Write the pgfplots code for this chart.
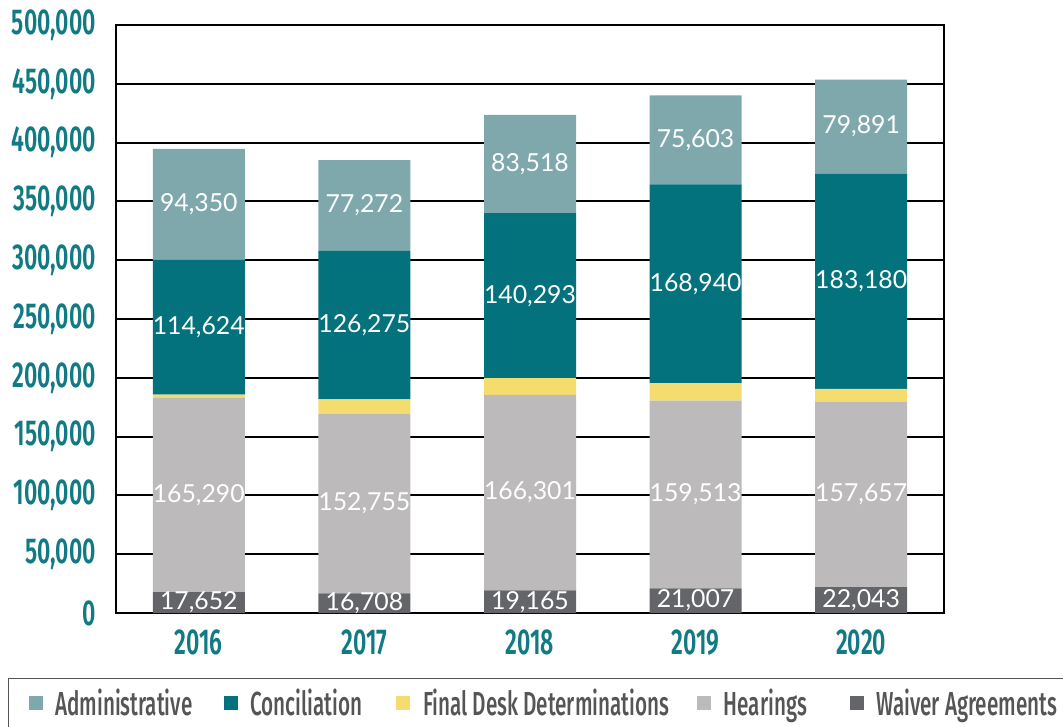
\documentclass[border=0pt]{standalone}
\usepackage{pgfplots}
\pgfplotsset{compat=1.18}
\usepackage{fontspec}
\setmainfont{Lato}
\newfontfamily\labfont{Lato}
\newfontfamily\tickfont{Fira Sans SemiBold}[FakeStretch=0.64]
\newfontfamily\legfont{Fira Sans Medium}[FakeStretch=0.62]
\definecolor{cadmin}{HTML}{7FA8AD}
\definecolor{cconc}{HTML}{03727D}
\definecolor{cfinal}{HTML}{F5DC6E}
\definecolor{chear}{HTML}{BCBABB}
\definecolor{cwaiv}{HTML}{646569}
\definecolor{cteal}{HTML}{117A83}
\definecolor{cleg}{HTML}{555555}
\begin{document}
\begin{tikzpicture}
\useasboundingbox (-87pt,-84.75pt) rectangle (710.25pt,459.75pt);
\begin{axis}[
  at={(0,0)}, anchor=south west,
  width=621pt, height=441pt, scale only axis,
  ybar stacked, bar width=69pt,
  xmin=-0.5, xmax=4.5,
  ymin=0, ymax=500000,
  ytick={0,50000,...,500000},
  xtick={0,1,2,3,4}, xticklabels={2016,2017,2018,2019,2020},
  ymajorgrids, major grid style={black, line width=1.4pt},
  axis line style={black, line width=1.6pt},
  major tick length=0pt,
  scaled y ticks=false,
  yticklabel style={font=\tickfont\fontsize{27}{27}\selectfont, text=cteal, inner sep=0pt, xshift=-15pt,
     /pgf/number format/.cd, fixed, 1000 sep={,}, assume math mode=true},
  xticklabel style={font=\tickfont\fontsize{27}{27}\selectfont, text=cteal, inner sep=0pt, yshift=-12.5pt},
  legend columns=5, reverse legend,
  legend style={at={(-0.1304,-0.1105)}, anchor=north west, draw=cleg, line width=0.8pt,
     inner xsep=15pt, inner ysep=8pt,
     font=\legfont\fontsize{25}{25}\selectfont, text=cleg,
     nodes={inner sep=0pt},
     /tikz/every odd column/.append style={column sep=9.5pt}},
  legend image code/.code={\fill[#1, draw=none] (0pt,-5.25pt) rectangle (10.5pt,5.25pt);},
]
\addplot[fill=cwaiv, draw=none] coordinates {(0,17652) (1,16708) (2,19165) (3,21007) (4,22043)};
\addlegendentry{\makebox[160pt][l]{Waiver Agreements}}
\addplot[fill=chear, draw=none] coordinates {(0,165290) (1,152755) (2,166301) (3,159513) (4,157657)};
\addlegendentry{\makebox[94.5pt][l]{Hearings}}
\addplot[fill=cfinal, draw=none] coordinates {(0,2800) (1,12200) (2,14200) (3,15000) (4,10800)};
\addlegendentry{\makebox[205.5pt][l]{Final Desk Determinations}}
\addplot[fill=cconc, draw=none] coordinates {(0,114624) (1,126275) (2,140293) (3,168940) (4,183180)};
\addlegendentry{\makebox[109.5pt][l]{Conciliation}}
\addplot[fill=cadmin, draw=none] coordinates {(0,94350) (1,77272) (2,83518) (3,75603) (4,79891)};
\addlegendentry{\makebox[126.4pt][l]{Administrative}}
\end{axis}
\begin{axis}[
  at={(0,0)}, anchor=south west,
  width=621pt, height=441pt, scale only axis,
  xmin=-0.5, xmax=4.5, ymin=0, ymax=500000,
  hide axis, clip=false]
\addplot[only marks, mark=none, nodes near coords, point meta=explicit symbolic,
  every node near coord/.append style={anchor=center, text=white, inner sep=0pt,
     font=\labfont\fontsize{18.6}{18.6}\selectfont}]
  table[meta=lab] {
x y lab
0 8826 17,652
0 100297 165,290
0 243054 114,624
0 347541 94,350
1 8354 16,708
1 93085 152,755
1 244800 126,275
1 346574 77,272
2 9582 19,165
2 102315 166,301
2 269812 140,293
2 381718 83,518
3 10503 21,007
3 101013 159,513
3 279990 168,940
3 402261 75,603
4 11021 22,043
4 100871 157,657
4 282090 183,180
4 413625 79,891
};
\end{axis}
\end{tikzpicture}
\end{document}
